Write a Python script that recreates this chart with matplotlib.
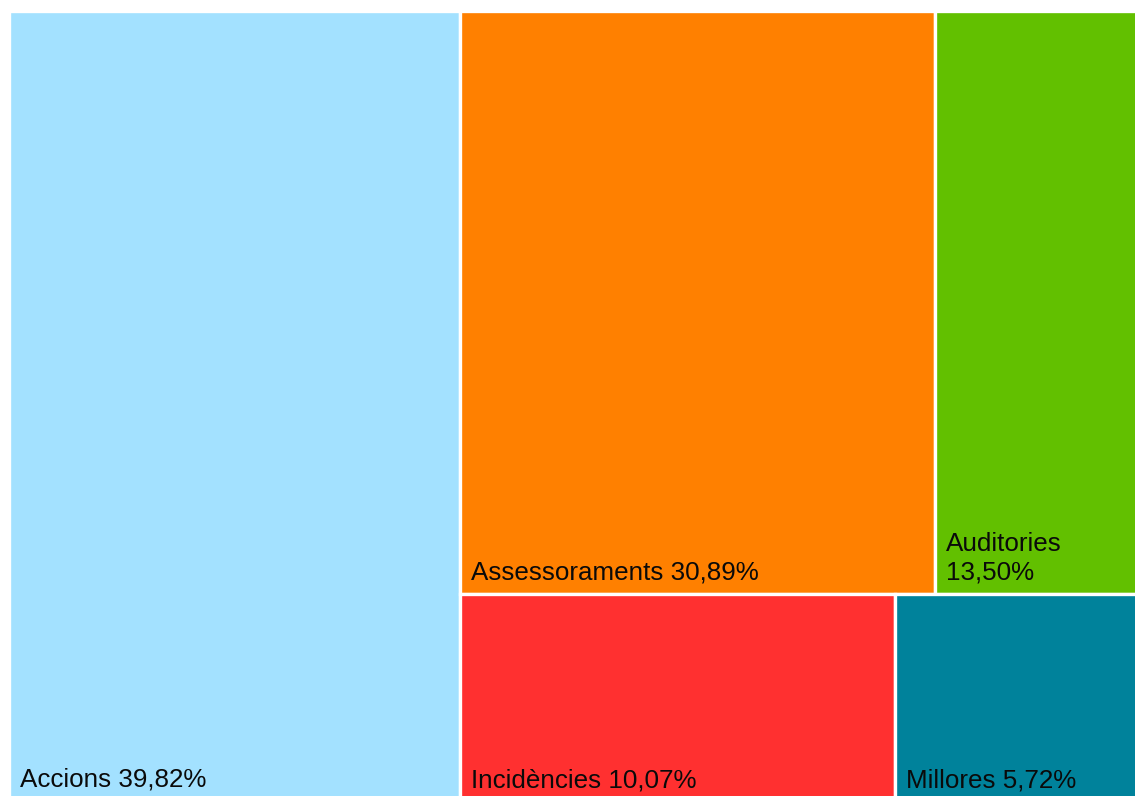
import matplotlib
matplotlib.use("Agg")
import matplotlib.pyplot as plt
from matplotlib.patches import Rectangle

categories = ["Accions", "Assessoraments", "Auditories", "Incidències", "Millores"]
values = [39.82, 30.89, 13.50, 10.07, 5.72]
colors = ["#A3E1FF", "#FF8000", "#62C000", "#FF3030", "#00829B"]

# treemap strips (indices into the lists above) and their orientation
strips = [([0], "col"), ([1, 2], "row"), ([3, 4], "row")]


def layout_row(row, orient, x, y, dx, dy, out):
    s = sum(row)
    if orient == "col":  # column on the left
        cw = s / dy
        yy = y
        for r in row:
            h = r / cw
            out.append((x, yy, cw, h))
            yy += h
        return x + cw, y, dx - cw, dy
    else:  # row on top
        rh = s / dx
        xx = x
        for r in row:
            w = r / rh
            out.append((xx, y, w, rh))
            xx += w
        return x, y + rh, dx, dy - rh


def treemap(sizes, groups, x, y, dx, dy):
    total = sum(sizes)
    areas = [s * dx * dy / total for s in sizes]
    out = []
    for g, orient in groups:
        x, y, dx, dy = layout_row([areas[i] for i in g], orient, x, y, dx, dy, out)
    return out


W, H = 1133.0, 791.0
fig = plt.figure(figsize=(11.35, 7.96), dpi=100)
ax = fig.add_axes([9 / 1135, (796 - 11 - H) / 796, W / 1135, H / 796])
ax.set_xlim(0, W)
ax.set_ylim(H, 0)
ax.axis("off")

rects = treemap(values, strips, 0, 0, W, H)
fig.canvas.draw()
renderer = fig.canvas.get_renderer()
for (x, y, w, h), cat, val, col in zip(rects, categories, values, colors):
    ax.add_patch(Rectangle((x, y), w, h, facecolor=col, edgecolor="white",
                           linewidth=2.4, clip_on=False))
    label = f"{cat} {val:.2f}%".replace(".", ",")
    t = ax.text(x + 11, y + h - 15, label, ha="left", va="baseline",
                fontsize=18.7, family="Liberation Sans", color="#0a0a0a",
                linespacing=1.22)
    bb = t.get_window_extent(renderer=renderer)
    if bb.width > w - 16:
        t.set_text(label.replace(" ", "\n", 1))

fig.savefig("out.png", dpi=100)
